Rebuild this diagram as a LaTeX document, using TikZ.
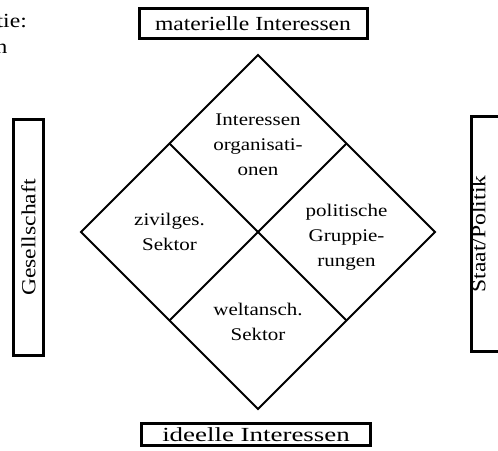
\documentclass[tikz,border=0pt]{standalone}
\usepackage{fontspec}
\usepackage{graphicx}
\setmainfont{Liberation Serif}[FakeStretch=1.18]
\begin{document}
\begin{tikzpicture}[x=1pt,y=-1pt,
  box/.style={draw, line width=3pt, inner sep=0pt, font=\fontsize{20}{24}\selectfont},
  boxtext/.style={inner sep=0pt, font=\fontsize{20}{24}\selectfont},
  quad/.style={align=center, inner sep=0pt, font=\fontsize{17.8}{25}\selectfont},
  edge/.style={line width=2pt, line join=miter}]
\useasboundingbox (0,0) rectangle (498,450);
\clip (0,0) rectangle (498,450);

% cut-off text at top left
\node[boxtext, anchor=base east] (t1) at (27,27) {tie:};
\node[boxtext, anchor=base east] (t2) at (7.5,53) {n};

% boxes
\node[box, minimum width=228pt, minimum height=30pt] (mat) at (253,23.5) {materielle Interessen};
\node[box, minimum width=229pt, minimum height=22pt] (ide) at (256,434.5) {\scalebox{1.14}[1]{ideelle Interessen}};
\node[box, rotate=90, minimum width=236pt, minimum height=30pt] (ges) at (28.5,237.5) {Gesellschaft};
\node[draw, line width=3pt, rotate=90, minimum width=235pt, minimum height=32pt] (staat) at (487.5,234) {};
\node[boxtext, rotate=90] (staattext) at (478.5,234) {Staat/Politik};

% diamond
\coordinate (T) at (258,55);
\coordinate (L) at (81,232);
\coordinate (R) at (435,232);
\coordinate (B) at (258,409);
\coordinate (TL) at (169.5,143.5);
\coordinate (TR) at (346.5,143.5);
\coordinate (BL) at (169.5,320.5);
\coordinate (BR) at (346.5,320.5);
\draw[edge] (T) -- (R) -- (B) -- (L) -- cycle;
\draw[edge] (TL) -- (BR);
\draw[edge] (TR) -- (BL);

% quadrant labels
\node[quad] (q1) at (258,145) {Interessen\\organisati-\\onen};
\node[quad] (q2) at (169.5,232) {zivilges.\\Sektor};
\node[quad] (q3) at (346.5,237) {politische\\Gruppie-\\rungen};
\node[quad] (q4) at (258,322) {weltansch.\\Sektor};
\end{tikzpicture}
\end{document}
